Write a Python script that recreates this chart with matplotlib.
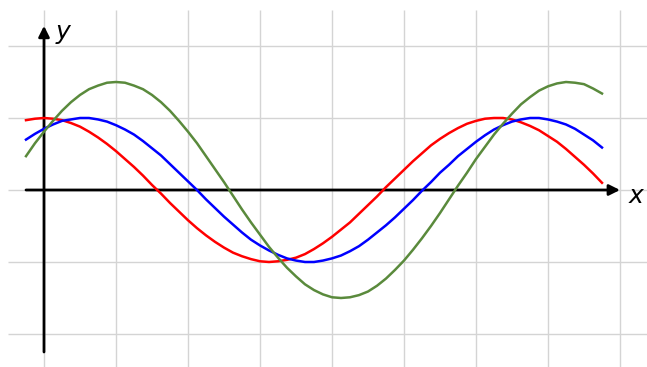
import matplotlib.pyplot as plt

# sampled curve values (units: one grid square = 1), x from -0.25 to 7.75 by 1/8
x_start, x_step = -0.25, 0.125
red = [0.97, 0.99, 1.0, 0.99, 0.97, 0.93, 0.88, 0.81, 0.73, 0.64, 0.54, 0.43,
       0.32, 0.20, 0.07, -0.05, -0.18, -0.30, -0.42, -0.53, -0.63, -0.72,
       -0.80, -0.87, -0.92, -0.96, -0.99, -1.0, -0.99, -0.97, -0.94, -0.89,
       -0.82, -0.74, -0.65, -0.55, -0.45, -0.33, -0.21, -0.09, 0.04, 0.16,
       0.28, 0.40, 0.51, 0.62, 0.71, 0.79, 0.86, 0.92, 0.96, 0.99, 1.0, 1.0,
       0.98, 0.94, 0.89, 0.83, 0.75, 0.67, 0.57, 0.46, 0.35, 0.23, 0.10]
blue = [0.70, 0.78, 0.85, 0.91, 0.96, 0.98, 1.0, 1.0, 0.98, 0.95, 0.90, 0.84,
        0.77, 0.68, 0.58, 0.48, 0.36, 0.24, 0.12, 0.0, -0.13, -0.25, -0.37,
        -0.48, -0.59, -0.69, -0.77, -0.84, -0.90, -0.95, -0.98, -1.0, -1.0,
        -0.98, -0.95, -0.91, -0.85, -0.78, -0.69, -0.59, -0.49, -0.38, -0.26,
        -0.14, -0.01, 0.11, 0.24, 0.35, 0.47, 0.57, 0.67, 0.76, 0.84, 0.90,
        0.95, 0.98, 1.0, 1.0, 0.98, 0.95, 0.91, 0.85, 0.77, 0.69, 0.59]
green = [0.47, 0.65, 0.81, 0.96, 1.10, 1.22, 1.32, 1.40, 1.45, 1.49, 1.5,
         1.49, 1.45, 1.40, 1.32, 1.22, 1.10, 0.96, 0.81, 0.65, 0.47, 0.29,
         0.11, -0.08, -0.27, -0.45, -0.62, -0.79, -0.94, -1.08, -1.20, -1.31,
         -1.39, -1.45, -1.49, -1.5, -1.49, -1.46, -1.41, -1.33, -1.23, -1.11,
         -0.98, -0.83, -0.67, -0.50, -0.32, -0.13, 0.06, 0.24, 0.43, 0.60,
         0.77, 0.92, 1.06, 1.19, 1.29, 1.38, 1.44, 1.48, 1.5, 1.49, 1.47,
         1.41, 1.34]
xs = [x_start + i*x_step for i in range(len(red))]
grid_x = [0, 1, 2, 3, 4, 5, 6, 7, 8]
grid_y = [-2, -1, 0, 1, 2]

fig = plt.figure(figsize=(6.47, 3.67), dpi=100)
ax = fig.add_axes([0, 0, 1, 1])
ax.set_xlim(-44/72, 603/72)
ax.set_ylim(-177/72, 190/72)
ax.axis('off')

ax.vlines(grid_x, -2.6, 2.5, color='#d4d4d4', lw=1, zorder=0)
ax.hlines(grid_y, -0.5, 8.5, color='#d4d4d4', lw=1, zorder=0)

# axes with arrows
ax.annotate('', xy=(8.0, 0), xytext=(-0.25, 0),
            arrowprops=dict(arrowstyle='-|>', color='k', lw=2, mutation_scale=16,
                            shrinkA=0, shrinkB=0), zorder=3)
ax.annotate('', xy=(0, 2.28), xytext=(0, -2.25),
            arrowprops=dict(arrowstyle='-|>', color='k', lw=2, mutation_scale=16,
                            shrinkA=0, shrinkB=0), zorder=3)
ax.text(8.22, -0.08, 'x', fontsize=18, style='italic', ha='center', va='center')
ax.text(0.26, 2.2, 'y', fontsize=18, style='italic', ha='center', va='center')

ax.plot(xs, red, color='#ff0000', lw=1.8, zorder=4)
ax.plot(xs, blue, color='#0000ff', lw=1.8, zorder=4)
ax.plot(xs, green, color='#5a8a3c', lw=1.8, zorder=4)

fig.savefig('out.png', dpi=100)
